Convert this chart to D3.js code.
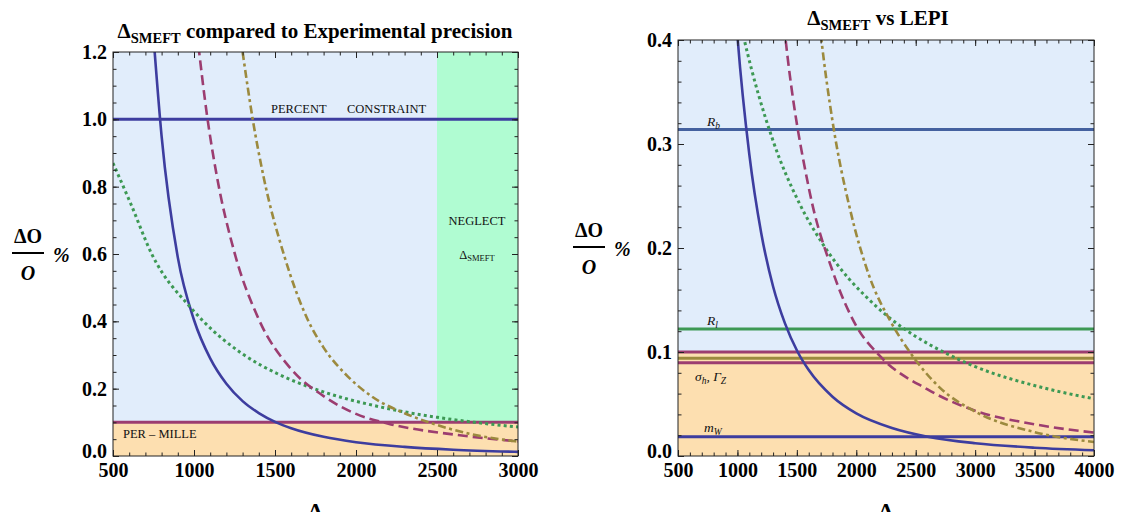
<!DOCTYPE html>
<html>
<head>
<meta charset="utf-8">
<script src="https://cdn.jsdelivr.net/npm/d3@7"></script>
<style>
  body { margin: 0; background: #fff; }
  svg text { font-family: "Liberation Serif", "Times New Roman", serif; }
</style>
</head>
<body>
<svg id="chart" width="1121" height="512"></svg>
<script>
// curves: [Lambda, dO/O in %]
var solidCurve = [[750, 1.245], [800, 0.95], [900, 0.59], [1000, 0.404], [1100, 0.29],
  [1200, 0.2145], [1300, 0.163], [1400, 0.1275], [1507, 0.1], [1600, 0.0826], [1800, 0.057],
  [2000, 0.041], [2300, 0.027], [2600, 0.0186], [3000, 0.0123], [3500, 0.008], [4000, 0.0056]];
var dashedCurve = [[1027, 1.22], [1078, 1.02], [1140, 0.834], [1250, 0.604], [1400, 0.406],
  [1600, 0.258], [1800, 0.178], [2000, 0.125], [2200, 0.096], [2600, 0.064], [3000, 0.0435],
  [3500, 0.0305], [4000, 0.0225]];
var dashDotCurve = [[1300, 1.2], [1366, 0.99], [1430, 0.828], [1560, 0.59], [1700, 0.407],
  [1800, 0.322], [1950, 0.236], [2100, 0.176], [2300, 0.127], [2450, 0.1], [2700, 0.066],
  [3000, 0.0427], [3500, 0.023], [4000, 0.0135]];
var dottedCurve = [[500, 0.87], [609, 0.75], [739, 0.60], [981, 0.44], [1058, 0.40],
  [1297, 0.304], [1521, 0.243], [1717, 0.204], [1941, 0.170], [2066, 0.155], [2278, 0.133],
  [2500, 0.115], [2733, 0.100], [3000, 0.086], [3573, 0.0656], [4000, 0.055]];

// experimental precision levels (percent)
var leftLevels = [1.0, 0.1];
var rightLevels = [0.314, 0.122, 0.1, 0.094, 0.0897, 0.0186];
var neglectFrom = 2500;
var perMille = 0.1;

// ticks
var leftXTicks = [500, 1000, 1500, 2000, 2500, 3000];
var leftYTicks = [0, 0.2, 0.4, 0.6, 0.8, 1.0, 1.2];
var rightXTicks = [500, 1000, 1500, 2000, 2500, 3000, 3500, 4000];
var rightYTicks = [0, 0.1, 0.2, 0.3, 0.4];

var colors = {
  blue: "#3d3d9f",
  magenta: "#9c3d70",
  olive: "#9c8a3e",
  green: "#3d9954",
  steel: "#44619f"
};
var curveStyles = [
  { data: solidCurve, color: colors.blue, dash: null, w: 2.6 },
  { data: dottedCurve, color: colors.green, dash: "3,3.2", w: 3 },
  { data: dashedCurve, color: colors.magenta, dash: "10,5", w: 2.6 },
  { data: dashDotCurve, color: colors.olive, dash: "8,3.5,3,3.5", w: 2.6 }
];

var svg = d3.select("#chart");

function drawPanel(o) {
  var g = svg.append("g");
  var x = d3.scaleLinear().domain(o.xDomain).range(o.xRange);
  var y = d3.scaleLinear().domain(o.yDomain).range(o.yRange);
  var x0 = o.xRange[0], x1 = o.xRange[1], y0 = o.yRange[1], y1 = o.yRange[0];

  g.append("clipPath").attr("id", o.id)
    .append("rect").attr("x", x0).attr("y", y0).attr("width", x1 - x0).attr("height", y1 - y0);

  // background regions
  g.append("rect").attr("x", x0).attr("y", y0).attr("width", x1 - x0).attr("height", y1 - y0)
    .attr("fill", "#e1edfb");
  if (o.neglect) {
    g.append("rect").attr("x", x(neglectFrom)).attr("y", y0)
      .attr("width", x1 - x(neglectFrom)).attr("height", y(perMille) - y0)
      .attr("fill", "#b0fcd2");
  }
  g.append("rect").attr("x", x0).attr("y", y(perMille))
    .attr("width", x1 - x0).attr("height", y1 - y(perMille))
    .attr("fill", "#fddfb0");

  var plot = g.append("g").attr("clip-path", "url(#" + o.id + ")");

  // horizontal precision lines
  o.levels.forEach(function(v, i) {
    plot.append("line")
      .attr("x1", x0).attr("x2", x1)
      .attr("y1", y(v)).attr("y2", y(v))
      .attr("stroke", o.levelColors[i])
      .attr("stroke-width", 3);
  });

  // curves
  var line = d3.line()
    .x(function(d) { return x(d[0]); })
    .y(function(d) { return y(d[1]); })
    .curve(d3.curveMonotoneX);
  curveStyles.forEach(function(c) {
    plot.append("path")
      .attr("d", line(c.data))
      .attr("fill", "none")
      .attr("stroke", c.color)
      .attr("stroke-width", c.w)
      .attr("stroke-dasharray", c.dash);
  });

  // axes: major + minor ticks on all four sides, pointing inwards
  function styleAxis(a) {
    a.attr("font-family", "Liberation Serif").attr("font-size", 20)
      .attr("font-weight", "bold").attr("color", "#222");
    a.selectAll(".domain").remove();
    a.selectAll("text").attr("fill", "#000");
  }
  var xMinor = d3.range(o.xDomain[0], o.xDomain[1] + 1, 100);
  var yMinor = d3.range(0, o.yDomain[1] + 1e-9, o.yMinorStep);

  g.append("g").attr("transform", "translate(0," + y1 + ")")
    .call(d3.axisBottom(x).tickValues(xMinor).tickSize(-3.5).tickFormat(""))
    .call(styleAxis);
  g.append("g").attr("transform", "translate(0," + y1 + ")")
    .call(d3.axisBottom(x).tickValues(o.xTicks).tickSize(-6).tickPadding(7).tickFormat(d3.format("d")))
    .call(styleAxis);
  g.append("g").attr("transform", "translate(0," + y0 + ")")
    .call(d3.axisTop(x).tickValues(xMinor).tickSize(-3.5).tickFormat(""))
    .call(styleAxis);
  g.append("g").attr("transform", "translate(0," + y0 + ")")
    .call(d3.axisTop(x).tickValues(o.xTicks).tickSize(-6).tickFormat(""))
    .call(styleAxis);

  g.append("g").attr("transform", "translate(" + x0 + ",0)")
    .call(d3.axisLeft(y).tickValues(yMinor).tickSize(-3.5).tickFormat(""))
    .call(styleAxis);
  var yAx = g.append("g").attr("transform", "translate(" + x0 + ",0)")
    .call(d3.axisLeft(y).tickValues(o.yTicks).tickSize(-6).tickPadding(6).tickFormat(d3.format(".1f")))
    .call(styleAxis);
  // the zero label sits a little higher, clear of the first x label
  yAx.selectAll(".tick").filter(function(d) { return d === 0; })
    .select("text").attr("dy", "0.05em");
  g.append("g").attr("transform", "translate(" + x1 + ",0)")
    .call(d3.axisRight(y).tickValues(yMinor).tickSize(-3.5).tickFormat(""))
    .call(styleAxis);
  g.append("g").attr("transform", "translate(" + x1 + ",0)")
    .call(d3.axisRight(y).tickValues(o.yTicks).tickSize(-6).tickFormat(""))
    .call(styleAxis);

  // frame
  g.append("rect").attr("x", x0).attr("y", y0).attr("width", x1 - x0).attr("height", y1 - y0)
    .attr("fill", "none").attr("stroke", "#222").attr("stroke-width", 1);

  // title with subscript
  var t = svg.append("text").attr("x", o.titleX).attr("y", o.titleY)
    .attr("text-anchor", "middle").attr("font-size", 21).attr("font-weight", "bold");
  t.append("tspan").text("Δ");
  t.append("tspan").attr("font-size", 14.5).attr("dy", 5).text("SMEFT");
  t.append("tspan").attr("dy", -5).text(o.titleRest);

  // y label: fraction dO / O %
  var cx = o.yLabelX, cy = o.yLabelY;
  svg.append("text").attr("x", cx).attr("y", cy - 10).attr("text-anchor", "middle")
    .attr("font-size", 20).attr("font-weight", "bold").text("ΔO");
  svg.append("line").attr("x1", cx - 16).attr("x2", cx + 16).attr("y1", cy).attr("y2", cy)
    .attr("stroke", "#000").attr("stroke-width", 2);
  svg.append("text").attr("x", cx).attr("y", cy + 27).attr("text-anchor", "middle")
    .attr("font-size", 20).attr("font-weight", "bold").attr("font-style", "italic").text("O");
  svg.append("text").attr("x", cx + 25).attr("y", cy + 9)
    .attr("font-size", 20).attr("font-weight", "bold").attr("font-style", "italic").text("%");

  // x label (partly below the picture edge, as in the original)
  svg.append("text").attr("x", (x0 + x1) / 2).attr("y", 518).attr("text-anchor", "middle")
    .attr("font-size", 22).attr("font-weight", "bold").text("Λ");

  return { x: x, y: y, g: g };
}

var left = drawPanel({
  id: "clipLeft",
  xDomain: [500, 3000], xRange: [113, 518],
  yDomain: [0, 1.2], yRange: [456, 52],
  xTicks: leftXTicks, yTicks: leftYTicks, yMinorStep: 0.05,
  levels: leftLevels, levelColors: [colors.blue, colors.magenta],
  neglect: true,
  titleX: 315, titleY: 38, titleRest: " compared to Experimental precision",
  yLabelX: 28, yLabelY: 253
});

var right = drawPanel({
  id: "clipRight",
  xDomain: [500, 4000], xRange: [678, 1094],
  yDomain: [0, 0.4], yRange: [456, 40],
  xTicks: rightXTicks, yTicks: rightYTicks, yMinorStep: 0.02,
  levels: rightLevels,
  levelColors: [colors.steel, colors.green, colors.magenta, colors.olive, colors.magenta, colors.blue],
  neglect: false,
  titleX: 878, titleY: 25, titleRest: " vs LEPI",
  yLabelX: 589, yLabelY: 247
});

// annotations, left panel
function note(x, y, txt, size) {
  return svg.append("text").attr("x", x).attr("y", y).attr("font-size", size || 12.5)
    .attr("fill", "#111").text(txt);
}
note(271, 113, "PERCENT");
note(347, 113, "CONSTRAINT");
note(123, 438, "PER – MILLE");
note(477, 225, "NEGLECT").attr("text-anchor", "middle");
var neg = svg.append("text").attr("x", 477).attr("y", 259).attr("text-anchor", "middle")
  .attr("font-size", 12.5).attr("fill", "#111");
neg.append("tspan").text("Δ");
neg.append("tspan").attr("font-size", 8.5).attr("dy", 2).text("SMEFT");

// annotations, right panel
function subLabel(x, y, parts) {
  var t = svg.append("text").attr("x", x).attr("y", y).attr("font-size", 13.5)
    .attr("font-style", "italic").attr("fill", "#111");
  parts.forEach(function(p) {
    t.append("tspan").attr("font-size", p.sub ? 9.5 : 13.5).attr("dy", p.sub ? 2.5 : (p.back ? -2.5 : 0))
      .text(p.t);
  });
}
subLabel(707, 126, [{ t: "R" }, { t: "b", sub: true }]);
subLabel(707, 325, [{ t: "R" }, { t: "l", sub: true }]);
subLabel(695, 381, [{ t: "σ" }, { t: "h", sub: true }, { t: ", Γ", back: true }, { t: "Z", sub: true }]);
subLabel(704, 432, [{ t: "m" }, { t: "W", sub: true }]);
</script>
</body>
</html>
